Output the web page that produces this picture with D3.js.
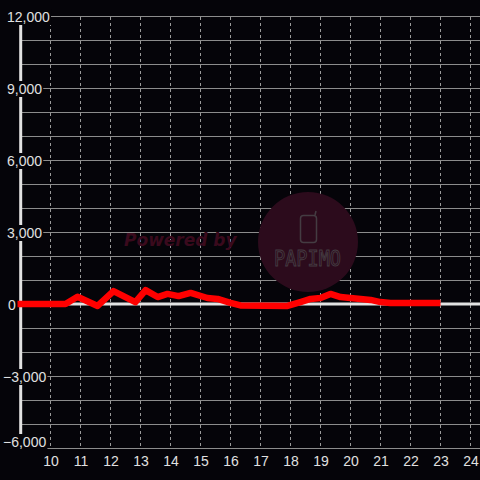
<!DOCTYPE html>
<html>
<head>
<meta charset="utf-8">
<script src="https://cdn.jsdelivr.net/npm/d3@7"></script>
<style>
  html, body { margin: 0; padding: 0; background: #050409; }
  svg { display: block; }
</style>
</head>
<body>
<svg id="chart" width="480" height="480"></svg>
<script>
// ---- data ----
const hours = [8.9, 10.5, 10.9, 11.57, 12.1, 12.83, 13.17, 13.57, 13.9, 14.27, 14.67, 15.23, 15.57, 16.0, 16.33, 17.9, 18.33, 18.67, 19.0, 19.33, 19.67, 20.0, 20.67, 21.0, 21.33, 23.0];
const values = [0, 0, 300, -80, 540, 80, 580, 290, 420, 330, 460, 250, 210, 50, -60, -80, 80, 210, 250, 420, 290, 250, 170, 80, 40, 40];
const xTicks = [10, 11, 12, 13, 14, 15, 16, 17, 18, 19, 20, 21, 22, 23, 24];
const yGridTicks = [-6000, -5000, -4000, -3000, -2000, -1000, 0, 1000, 2000, 3000, 4000, 5000, 6000, 7000, 8000, 9000, 10000, 11000, 12000];
const yLabelTicks = [-6000, -3000, 0, 3000, 6000, 9000, 12000];

const W = 480, H = 480, BG = "#050409";
const svg = d3.select("#chart");
svg.append("rect").attr("width", W).attr("height", H).attr("fill", BG);

const x = d3.scaleLinear().domain([10, 24]).range([50.5, 470.5]);
const y = d3.scaleLinear().domain([-6000, 12000]).range([448, 16]);
const axisX = 20.7;

// vertical dashed grid
svg.append("g").selectAll("line").data(xTicks).join("line")
  .attr("x1", d => x(d)).attr("x2", d => x(d))
  .attr("y1", 17).attr("y2", 447)
  .attr("stroke", "#9a9a9a").attr("stroke-width", 1)
  .attr("stroke-dasharray", "3,3");

// horizontal grid
svg.append("g").selectAll("line").data(yGridTicks.filter(d => d !== 0)).join("line")
  .attr("x1", axisX).attr("x2", W)
  .attr("y1", d => Math.round(y(d)) + 0.5).attr("y2", d => Math.round(y(d)) + 0.5)
  .attr("stroke", "#8c8c8c").attr("stroke-width", 1);

// watermark
const wm = svg.append("g");
wm.append("circle").attr("cx", 308).attr("cy", 242).attr("r", 50).attr("fill", "#2c0b1c");
wm.append("text").attr("x", 124).attr("y", 246)
  .attr("font-family", "DejaVu Sans").attr("font-weight", "bold").attr("font-style", "italic")
  .attr("font-size", 17).attr("fill", "#3a0a1d").text("Powered by");
wm.append("rect").attr("x", 300.5).attr("y", 215.5).attr("width", 16).attr("height", 27).attr("rx", 3)
  .attr("fill", "none").attr("stroke", "#443c42").attr("stroke-width", 1.5);
wm.append("line").attr("x1", 315).attr("x2", 316).attr("y1", 215).attr("y2", 211)
  .attr("stroke", "#443c42").attr("stroke-width", 1.5);
wm.append("text").attr("x", 274).attr("y", 266)
  .attr("font-family", "DejaVu Sans Mono").attr("font-size", 22)
  .attr("textLength", 67).attr("lengthAdjust", "spacingAndGlyphs")
  .attr("fill", "none").attr("stroke", "#443c42").attr("stroke-width", 1).text("PAPIMO");

// zero line
svg.append("line").attr("x1", axisX).attr("x2", W).attr("y1", y(0)).attr("y2", y(0))
  .attr("stroke", "#e2e2e2").attr("stroke-width", 3);

// y axis line
svg.append("line").attr("x1", axisX).attr("x2", axisX).attr("y1", 16).attr("y2", 448)
  .attr("stroke", "#e2e2e2").attr("stroke-width", 3);

// series line
const line = d3.line().x((d, i) => x(hours[i])).y(d => y(d));
svg.append("path").datum(values)
  .attr("d", line)
  .attr("fill", "none").attr("stroke", "#ff0000").attr("stroke-width", 6.5)
  .attr("stroke-linejoin", "round").attr("stroke-linecap", "butt");

// y labels with background
const fmt = d3.format(",");
const yl = svg.append("g").selectAll("g").data(yLabelTicks).join("g");
yl.each(function(d) {
  const g = d3.select(this);
  const base = Math.min(y(d) + 6, 447);
  const t = g.append("text")
    .attr("x", d < 0 ? 3 : (d === 0 ? 8 : 7)).attr("y", base)
    .attr("font-family", "Liberation Sans, Arial, sans-serif").attr("font-size", 14)
    .attr("fill", "#e0e0e0").text(fmt(d));
  const bb = t.node().getBBox();
  g.insert("rect", "text").attr("x", bb.x - 1).attr("y", bb.y)
    .attr("width", bb.width + 2).attr("height", bb.height).attr("fill", BG);
});

// x labels
svg.append("g").selectAll("text").data(xTicks).join("text")
  .attr("x", d => x(d) + 0.5).attr("y", 466)
  .attr("text-anchor", "middle")
  .attr("font-family", "Liberation Sans, Arial, sans-serif").attr("font-size", 14)
  .attr("fill", "#e0e0e0").text(d => d);
</script>
</body>
</html>
